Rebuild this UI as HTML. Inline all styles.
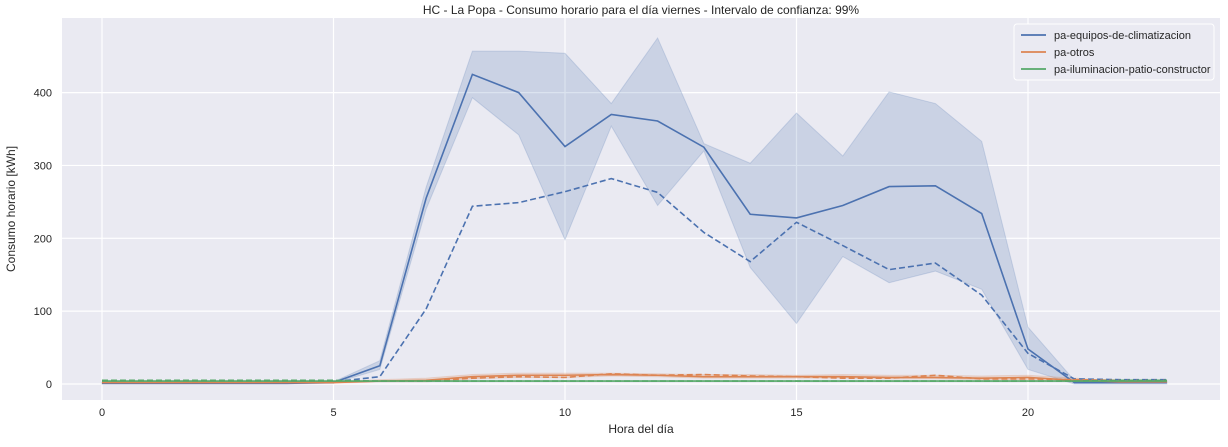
<!DOCTYPE html>
<html><head><meta charset="utf-8"><style>
body{margin:0;background:#fff;font-family:"Liberation Sans",sans-serif}
svg text{font-family:"Liberation Sans",sans-serif;fill:#262626}
</style></head><body>
<svg id="c" width="1228" height="442"></svg>
<script>
const hours=[0,1,2,3,4,5,6,7,8,9,10,11,12,13,14,15,16,17,18,19,20,21,22,23];
const climMean=[1,1,1,1,1,2,25,255,425,400,326,370,361,325,233,228,245,271,272,234,48,2,2,2];
const climLow=[0,0,0,0,0,1,20,240,393,342,198,354,245,320,160,83,175,139,155,130,20,0,0,0];
const climHigh=[2,2,2,2,2,3,32,270,457,457,454,385,475,330,303,372,313,401,385,333,78,5,4,4];
const climRef=[5,5,5,4,4,3,10,103,244,249,264,282,263,208,168,222,190,157,166,122,42,7,6,6];
const otrosMean=[2,2,2,2,2,2,4,5,10,12,12,13,12,10,10,10,10,9,9,8,9,5,3,3];
const otrosLow=[1,1,1,1,1,1,3,3,7,9,9,11,10,8,8,8,8,7,7,6,6,3,2,2];
const otrosHigh=[3,3,3,3,3,3,6,8,13,15,15,15,14,13,13,12,13,12,12,11,12,8,4,4];
const otrosRef=[4,4,4,4,4,4,4,4,8,10,9,14,12,13,11,10,8,8,12,7,7,6,5,5];
const ilumMean=[4,4,4,4,4,4,4,4,4,4,4,4,4,4,4,4,4,4,4,4,4,4,4,4];
const ilumRef=[5,5,5,5,5,5,4,4,4,4,4,4,4,4,4,4,4,4,4,4,4,4,5,5];
const xTicks=[0,5,10,15,20];
const yTicks=[0,100,200,300,400];
const L=62,R=1220,T=18,B=400;
const X=v=>102+v*46.3;
const Y=v=>384-v*0.7285;
const svg=document.getElementById('c');
const NS='http://www.w3.org/2000/svg';
function mk(t,a,p){const e=document.createElementNS(NS,t);for(const k in a)e.setAttribute(k,a[k]);(p||svg).appendChild(e);return e;}
const bg=mk('rect',{x:L,y:T,width:R-L,height:B-T,fill:'#eaeaf2'});


xTicks.forEach(t=>{const g=mk('line',{x1:X(t),x2:X(t),y1:T,y2:B,stroke:'#fff','stroke-width':1.2});


const tx=mk('text',{x:X(t),y:B+16,'text-anchor':'middle','font-size':11});tx.textContent=t;

});
yTicks.forEach(t=>{const g=mk('line',{x1:L,x2:R,y1:Y(t),y2:Y(t),stroke:'#fff','stroke-width':1.2});


const tx=mk('text',{x:L-10,y:Y(t)+4,'text-anchor':'end','font-size':11});tx.textContent=t;

});
function band(lo,hi,col,name){const up=hours.map((h,i)=>X(h)+','+Y(hi[i]));const dn=hours.map((h,i)=>X(h)+','+Y(lo[i])).reverse();
const p=mk('polygon',{points:up.concat(dn).join(' '),fill:col,'fill-opacity':0.2,stroke:col,'stroke-opacity':0.2});

}
function line(v,col,dash,name){const p=mk('polyline',{points:hours.map((h,i)=>X(h)+','+Y(v[i])).join(' '),fill:'none',stroke:col,'stroke-width':1.6,'stroke-dasharray':dash?'6,3':'none'});

}
const B1='#4c72b0',O1='#dd8452',G1='#55a868';
band(climLow,climHigh,B1,'clim-confidence-band');
band(otrosLow,otrosHigh,O1,'otros-confidence-band');
line(climMean,B1,false,'clim-line');
line(climRef,B1,true,'clim-dashed-line');
line(otrosMean,O1,false,'otros-line');
line(otrosRef,O1,true,'otros-dashed-line');
line(ilumMean,G1,false,'ilum-line');
line(ilumRef,G1,true,'ilum-dashed-line');
const ti=mk('text',{x:(L+R)/2,y:14,'text-anchor':'middle','font-size':12});ti.textContent='HC - La Popa - Consumo horario para el día viernes - Intervalo de confianza: 99%';


const xl=mk('text',{x:(L+R)/2,y:433,'text-anchor':'middle','font-size':12});xl.textContent='Hora del día';


const yl=mk('text',{x:0,y:0,'text-anchor':'middle','font-size':12,transform:'translate(15,209) rotate(-90)'});yl.textContent='Consumo horario [kWh]';


const lg=mk('g',{});


mk('rect',{x:1014,y:24,width:200,height:56,rx:3,fill:'#eaeaf2',stroke:'#fff'},lg);
const labels=['pa-equipos-de-climatizacion','pa-otros','pa-iluminacion-patio-constructor'];
[B1,O1,G1].forEach((c,i)=>{const y=35+i*17;
const e=mk('g',{},lg);


mk('line',{x1:1021,x2:1046,y1:y,y2:y,stroke:c,'stroke-width':1.8},e);
const t=mk('text',{x:1054,y:y+4,'font-size':11},e);t.textContent=labels[i];});
</script>
</body></html>
